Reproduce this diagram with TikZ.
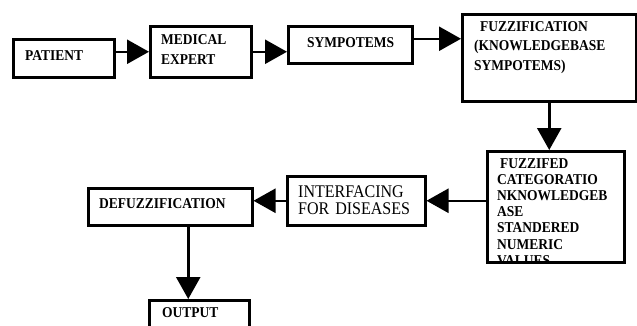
\documentclass[tikz,border=0pt]{standalone}
\usepackage{fontspec}
\setmainfont{Liberation Serif}[FakeStretch=0.9]
\usetikzlibrary{arrows.meta}
\newcommand*{\boxLine}{2.5pt}
\newcommand*{\tipArrow}{Triangle[length=22pt, width=24pt]}
\tikzset{
  box/.style={draw=black, line width=\boxLine, rectangle, anchor=north west, inner sep=0pt},
  lbl/.style={anchor=base west, inner sep=0pt, align=left, text width=150pt, font=\bfseries\fontsize{15}{#1}\selectfont},
  lbl/.default=17,
  arr/.style={line width=2.5pt, -{\tipArrow}},
}

\begin{document}
\begin{tikzpicture}[x=1pt, y=-1pt] {
\useasboundingbox (0,0) rectangle (637,325);
% boxes (top left corner, size)
\node[box, minimum width=101, minimum height=38] (patient) at (12,38) {};
\node[box, minimum width=101, minimum height=51] (medical) at (149,25) {};
\node[box, minimum width=124, minimum height=37] (symp) at (287,25) {};
\node[box, minimum width=174, minimum height=87] (fuzz) at (461,13) {};
\node[box, minimum width=137, minimum height=111] (fuzzd) at (486,150) {};
\node[box, minimum width=138, minimum height=49] (interf) at (286,175) {};
\node[box, minimum width=164, minimum height=37] (defuzz) at (87,187) {};
\node[box, minimum width=100, minimum height=42] (output) at (148,299) {};
% texts
\node[lbl] (patientText) at (25,60) {PATIENT};
\node[lbl=20] (medicalText) at (161,44) {MEDICAL\\EXPERT};
\node[lbl] (sympText) at (307,47) {SYMPOTEMS};
\node[lbl=19.5] (fuzzText) at (474,31) {\hspace{6pt}FUZZIFICATION\\(KNOWLEDGEBASE\\SYMPOTEMS)};
\begin{scope}
  \clip (fuzzd.north west) rectangle (fuzzd.south east);
  \node[lbl=16.2] (fuzzdText) at (497,168) {\hspace{3pt}FUZZIFED\\CATEGORATIO\\NKNOWLEDGEB\\ASE\\STANDERED\\NUMERIC\\VALUES};
\end{scope}
\node[lbl, font=\fontsize{17.8}{17}\selectfont] (interfText) at (298,197) {INTERFACING\\FOR DISEASES};
\node[lbl] (defuzzText) at (99,208) {DEFUZZIFICATION};
\node[lbl] (outputText) at (162,317) {OUTPUT};
% arrows
\draw[arr] (patient.east |- medical.west) -- (medical.west);
\draw[arr] (medical.east) -- (medical.east -| symp.west);
\draw[arr] ([yshift=6pt]symp.east) -- ([yshift=6pt]symp.east -| fuzz.west);
\draw[arr] (fuzz.south) -- (fuzz.south |- fuzzd.north);
\draw[arr] (fuzzd.west |- interf.east) -- (interf.east);
\draw[arr] (interf.west) -- (interf.west -| defuzz.east);
\coordinate (defuzzOut) at ([xshift=18pt]defuzz.south);
\draw[arr] (defuzzOut) -- (defuzzOut |- output.north);
}\end{tikzpicture}
\end{document}
